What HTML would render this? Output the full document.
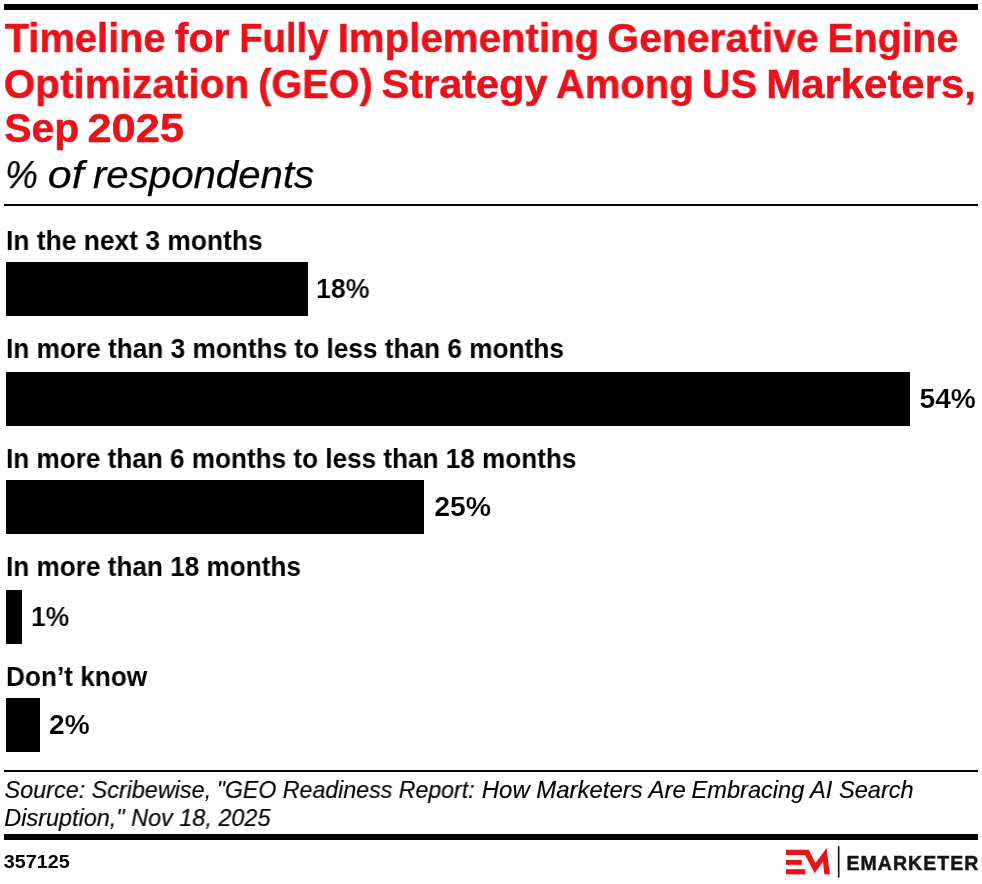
<!DOCTYPE html>
<html>
<head>
<meta charset="utf-8">
<title>Timeline for Fully Implementing Generative Engine Optimization (GEO) Strategy Among US Marketers, Sep 2025</title>
<style>
html,body{margin:0;padding:0;background:#fff;}
body{width:982px;height:884px;position:relative;overflow:hidden;font-family:"Liberation Sans",sans-serif;color:#000;}
.t{position:absolute;white-space:nowrap;line-height:1;transform-origin:0 0;margin:0;padding:0;will-change:transform;}
.r{position:absolute;background:#000;}
.title{color:#e8121b;font-weight:bold;font-size:41px;-webkit-text-stroke:0.5px #e8121b;}
.sub{font-style:italic;font-size:39.5px;-webkit-text-stroke:0.25px #000;}
.lab{font-weight:bold;font-size:27px;}
.val{font-weight:bold;font-size:27px;-webkit-text-stroke:0.18px #fff;}
.src{font-style:italic;font-size:23.5px;-webkit-text-stroke:0.15px #000;}
.id{font-weight:bold;font-size:18px;}
.brand{font-weight:bold;font-size:19.5px;color:#151515;letter-spacing:1.04px;-webkit-text-stroke:0.45px #151515;}
</style>
</head>
<body>
<div class="r" style="left:4px;top:4px;width:974px;height:6px;"></div>
<div class="t title" id="t1a" style="left:4px;top:18px;padding:0.00px 0 0 0.79px;transform:scaleX(0.9710);">Timeline</div>
<div class="t title" id="t1b" style="left:174px;top:18px;padding:0.00px 0 0 0.69px;transform:scaleX(1.0049);">for</div>
<div class="t title" id="t1c" style="left:239px;top:18px;padding:0.00px 0 0 0.29px;transform:scaleX(0.9327);">Fully</div>
<div class="t title" id="t1d" style="left:337px;top:18px;padding:0.00px 0 0 0.63px;transform:scaleX(0.9819);">Implementing</div>
<div class="t title" id="t1e" style="left:607px;top:18px;padding:0.00px 0 0 0.30px;transform:scaleX(0.9976);">Generative</div>
<div class="t title" id="t1f" style="left:827px;top:18px;padding:0.00px 0 0 0.53px;transform:scaleX(0.9567);">Engine</div>
<div class="t title" id="t2a" style="left:3px;top:64px;padding:0.00px 0 0 0.73px;transform:scaleX(0.9887);">Optimization</div>
<div class="t title" id="t2b" style="left:258px;top:64px;padding:0.00px 0 0 0.22px;transform:scaleX(0.9672);">(GEO)</div>
<div class="t title" id="t2c" style="left:381px;top:64px;padding:0.00px 0 0 0.48px;transform:scaleX(1.0123);">Strategy</div>
<div class="t title" id="t2d" style="left:555px;top:64px;padding:0.00px 0 0 0.89px;transform:scaleX(0.9764);">Among</div>
<div class="t title" id="t2e" style="left:701px;top:64px;padding:0.00px 0 0 0.84px;transform:scaleX(0.9718);">US</div>
<div class="t title" id="t2f" style="left:766px;top:64px;padding:0.00px 0 0 0.23px;transform:scaleX(1.0225);">Marketers,</div>
<div class="t title" id="t3a" style="left:4px;top:108px;padding:0.00px 0 0 0.20px;transform:scaleX(0.9967);">Sep</div>
<div class="t title" id="t3b" style="left:87px;top:108px;padding:0.00px 0 0 0.44px;transform:scaleX(1.0594);">2025</div>
<div class="t sub" id="s1a" style="left:5px;top:155px;padding:0.00px 0 0 0.02px;transform:scaleX(0.9359);">%</div>
<div class="t sub" id="s1b" style="left:47px;top:155px;padding:0.00px 0 0 0.79px;transform:scaleX(1.0861);">of</div>
<div class="t sub" id="s1c" style="left:92px;top:155px;padding:0.00px 0 0 0.97px;transform:scaleX(1.0173);">respondents</div>
<div class="r" style="left:4px;top:204px;width:974px;height:2px;"></div>
<div class="t lab" id="l1" style="left:5px;top:228px;padding:0.00px 0 0 1.01px;transform:scaleX(0.9778);">In the next 3 months</div>
<div class="r" style="left:6px;top:262px;width:302px;height:54px;"></div>
<div class="t val" id="v1" style="left:316px;top:276px;padding:0.00px 0 0 0.07px;transform:scaleX(0.9903);">18%</div>
<div class="t lab" id="l2" style="left:6px;top:336px;padding:0.00px 0 0 0.00px;transform:scaleX(0.9711);">In more than 3 months to less than 6 months</div>
<div class="r" style="left:6px;top:372px;width:904px;height:54px;"></div>
<div class="t val" id="v2" style="left:919px;top:386px;padding:0.00px 0 0 0.52px;transform:scaleX(1.0433);">54%</div>
<div class="t lab" id="l3" style="left:6px;top:446px;padding:0.01px 0 0 0.01px;transform:scaleX(0.9676);">In more than 6 months to less than 18 months</div>
<div class="r" style="left:6px;top:480px;width:418px;height:54px;"></div>
<div class="t val" id="v3" style="left:434px;top:494px;padding:0.00px 0 0 0.13px;transform:scaleX(1.0530);">25%</div>
<div class="t lab" id="l4" style="left:6px;top:554px;padding:0.00px 0 0 0.01px;transform:scaleX(0.9685);">In more than 18 months</div>
<div class="r" style="left:6px;top:590px;width:16px;height:54px;"></div>
<div class="t val" id="v4" style="left:30px;top:604px;padding:0.01px 0 0 1.00px;transform:scaleX(0.9796);">1%</div>
<div class="t lab" id="l5" style="left:6px;top:664px;padding:0.00px 0 0 0.00px;transform:scaleX(0.9704);">Don’t know</div>
<div class="r" style="left:6px;top:698px;width:34px;height:54px;"></div>
<div class="t val" id="v5" style="left:49px;top:712px;padding:0.00px 0 0 0.05px;transform:scaleX(1.0407);">2%</div>
<div class="r" style="left:4px;top:770px;width:974px;height:2px;"></div>
<div class="t src" id="c1a" style="left:4px;top:779px;padding:0.01px 0 0 0.50px;transform:scaleX(0.9951);">Source: Scribewise,</div>
<div class="t src" id="c1b" style="left:216px;top:779px;padding:0.01px 0 0 0.74px;transform:scaleX(0.9851);">"GEO Readiness Report:</div>
<div class="t src" id="c1c" style="left:481px;top:779px;padding:0.01px 0 0 0.75px;transform:scaleX(1.0190);">How Marketers Are</div>
<div class="t src" id="c1d" style="left:691px;top:779px;padding:0.01px 0 0 0.54px;transform:scaleX(1.0046);">Embracing AI Search</div>
<div class="t src" id="c2" style="left:4px;top:807px;padding:0.01px 0 0 0.25px;transform:scaleX(0.9972);">Disruption," Nov 18, 2025</div>
<div class="r" style="left:4px;top:834px;width:974px;height:6px;"></div>
<div class="t id" id="i1" style="left:3px;top:853px;padding:0.01px 0 0 0.69px;transform:scaleX(1.0971);">357125</div>
<svg style="position:absolute;left:780px;top:842px;" width="62" height="40" viewBox="780 842 62 40">
<polygon fill="#e8121b" points="786,849.8 808.7,849.8 815.5,863 826.6,848 829.9,874.3 824.3,874.3 823,861.6 814.6,873.2 805.1,854.9 786,854.9"/>
<rect fill="#e8121b" x="786" y="859.9" width="15.8" height="4.9"/>
<rect fill="#e8121b" x="786" y="869.2" width="19.3" height="5.2"/>
<rect fill="#151515" x="837.9" y="846.2" width="1.6" height="31.5"/>
</svg>
<div class="t brand" id="b1" style="left:846px;top:854px;padding:0.01px 0 0 0.50px;transform:scaleX(1.0000);">EMARKETER</div>
</body>
</html>
